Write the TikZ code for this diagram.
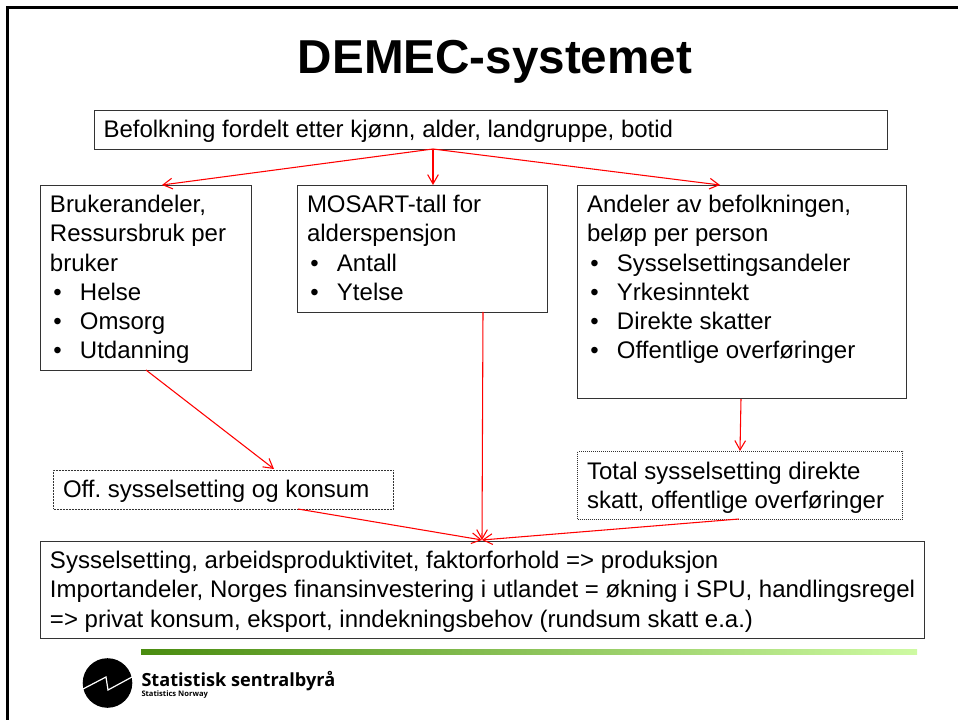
\documentclass[tikz,border=0pt]{standalone}
\usepackage{fontspec}
\setmainfont{Liberation Sans}
\newfontfamily\logofont{Open Sans}
\usetikzlibrary{arrows.meta}
\definecolor{lineleft}{RGB}{74,140,16}
\definecolor{lineright}{RGB}{206,250,162}
\tikzset{every picture/.style={line width=0.75pt}}
\tikzset{
  textbox/.style={draw=black!80,fill=white,line width=0.75pt,inner sep=0pt,anchor=north west,align=left,
    font=\fontsize{18}{21.8}\selectfont},
  plaintext/.style={textbox,draw=none,fill=none},
  redline/.style={draw=red,line width=0.8pt},
  redarrow/.style={redline,-{Straight Barb[length=7pt,width=8pt]}}
}
\newcommand{\bulletitem}[1]{\makebox[22.5pt][l]{\hspace{2.5pt}\textbullet}#1}
\begin{document}
\begin{tikzpicture}[x=0.75pt,y=0.75pt,yscale=-1,xscale=1]
\useasboundingbox (0,0) rectangle (958,720);

% slide frame
\fill[black] (6,6) rectangle (958,9);
\fill[black] (6,6) rectangle (9,720);

% title
\node (title) at (495,62) {\fontsize{35.7}{38}\selectfont\bfseries DEMEC-systemet};

% boxes
\node[textbox,minimum width=594.75pt,minimum height=29.25pt] (befolkning) at (94,110) {};
\node[textbox,minimum width=158.25pt,minimum height=138.5pt] (bruker) at (40,185) {};
\node[textbox,minimum width=187.5pt,minimum height=95pt] (mosart) at (297,185) {};
\node[textbox,minimum width=246.75pt,minimum height=160pt] (andeler) at (577,185) {};
\node[textbox,minimum width=255pt,minimum height=29.25pt,dash pattern=on 1.5pt off 0.75pt] (off) at (53,470) {};
\node[textbox,minimum width=243.75pt,minimum height=51pt,dash pattern=on 0.75pt off 0.75pt] (total) at (577,451) {};
\node[textbox,minimum width=663pt,minimum height=72.75pt] (syssel) at (40,541) {};

% text
\node[plaintext] (befolkningtxt) at (103,120) {Befolkning fordelt etter kjønn, alder, landgruppe, botid};
\node[plaintext] (brukertxt) at (49.5,195) {Brukerandeler,\\Ressursbruk per\\bruker\\\bulletitem{Helse}\\\bulletitem{Omsorg}\\\bulletitem{Utdanning}};
\node[plaintext] (mosarttxt) at (306.5,195) {MOSART-tall for\\alderspensjon\\\bulletitem{Antall}\\\bulletitem{Ytelse}};
\node[plaintext] (andelertxt) at (586.5,195) {Andeler av befolkningen,\\beløp per person\\\bulletitem{Sysselsettingsandeler}\\\bulletitem{Yrkesinntekt}\\\bulletitem{Direkte skatter}\\\bulletitem{Offentlige overføringer}};
\node[plaintext] (offtxt) at (62.5,480) {Off.\ sysselsetting og konsum};
\node[plaintext] (totaltxt) at (586.5,462) {Total sysselsetting direkte\\skatt, offentlige overføringer};
\node[plaintext] (sysseltxt) at (49.5,551) {Sysselsetting, arbeidsproduktivitet, faktorforhold => produksjon\\Importandeler, Norges finansinvestering i utlandet = økning i SPU, handlingsregel\\=> privat konsum, eksport, inndekningsbehov (rundsum skatt e.a.)};

% connector ends
\coordinate (befolkningout) at (433,149);
\coordinate (brukerin) at (162,185);
\coordinate (mosartin) at (433,185);
\coordinate (andelerin) at (720,185);
\coordinate (brukerout) at (146,370);
\coordinate (offin) at (274,469);
\coordinate (offout) at (298,509);
\coordinate (mosartout) at (483,312);
\coordinate (andelerout) at (741,399);
\coordinate (totalin) at (740,451);
\coordinate (totalout) at (739,519);
\coordinate (sysselin) at (482,540);

% connectors
\draw[redarrow] (befolkningout) -- (brukerin);
\draw[redarrow] (befolkningout) -- (mosartin);
\draw[redarrow] (befolkningout) -- (andelerin);
\draw[redarrow] (brukerout) -- (offin);
\draw[redarrow] (andelerout) -- (totalin);
\draw[redarrow] (offout) -- (sysselin);
\draw[redarrow] (mosartout) -- (sysselin);
\draw[redarrow] (totalout) -- (sysselin);

% footer
\shade[left color=lineleft,right color=lineright] (141,649) rectangle (917,654);
\fill[black] (107.5,683) circle (18.6pt);
\draw[white,line width=0.9pt] (83,689) -- (106,677) -- (108,690) -- (132,677);
\node[anchor=west,inner sep=0pt] (ssb) at (141,681) {\fontsize{13.6}{14}\selectfont\logofont\bfseries Statistisk sentralbyrå};
\node[anchor=west,inner sep=0pt] (ssben) at (141,695) {\fontsize{5.7}{6}\selectfont\logofont\bfseries Statistics Norway};
\end{tikzpicture}
\end{document}
